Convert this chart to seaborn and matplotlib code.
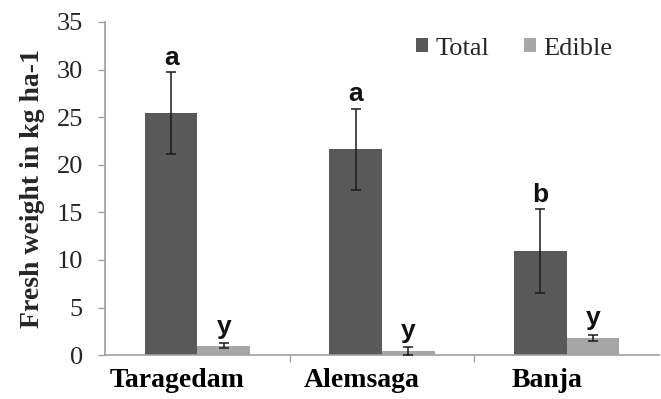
import matplotlib
matplotlib.use("Agg")
import matplotlib.pyplot as plt
import matplotlib.transforms as mtransforms
import seaborn as sns
import pandas as pd
from matplotlib.ticker import FixedLocator

# Fresh weight per site (kg ha-1), mean and error
sites = ["Taragedam", "Alemsaga", "Banja"]
series = ["Total", "Edible"]
total_mean = [25.4, 21.6, 10.9]
total_err = [4.3, 4.3, 4.4]
edible_mean = [1.0, 0.4, 1.8]
edible_err = [0.3, 0.4, 0.35]
total_letters = ["a", "a", "b"]
edible_letters = ["y", "y", "y"]

colors = {"Total": "#595959", "Edible": "#a6a6a6"}

df = pd.DataFrame({
    "Site": sites * 2,
    "Series": ["Total"] * 3 + ["Edible"] * 3,
    "Value": total_mean + edible_mean,
    "Err": total_err + edible_err,
    "Letter": total_letters + edible_letters,
})

sns.set_style("white")
serif = ["Liberation Serif", "DejaVu Serif"]
sans = ["Liberation Sans", "DejaVu Sans"]

fig = plt.figure(figsize=(6.61, 3.99), dpi=100)
ax = fig.add_axes([0.159, 0.110, 0.838, 0.835])

sns.barplot(data=df, x="Site", y="Value", hue="Series", order=sites,
            hue_order=series, palette=colors, width=0.57, saturation=1,
            errorbar=None, ax=ax, edgecolor="none")

# Error bars and significance letters placed on each drawn bar
for hue_idx, name in enumerate(series):
    sub = df[df["Series"] == name].set_index("Site").loc[sites]
    cont = ax.containers[hue_idx]
    for bar, (_, row) in zip(cont, sub.iterrows()):
        cx = bar.get_x() + bar.get_width() / 2
        top = bar.get_height()
        ax.errorbar(cx, top, yerr=row["Err"], fmt="none", ecolor="#1a1a1a",
                    elinewidth=1.1, capsize=3.5, capthick=1.1, zorder=5)
        off = 2 if name == "Total" else 3
        ax.annotate(row["Letter"], (cx, top + row["Err"]), xytext=(0, off),
                    textcoords="offset points", ha="center", va="bottom",
                    fontsize=19, fontweight="bold", family=sans, color="#111111")

ax.set_ylim(0, 35)
ax.set_xlim(-0.5, 2.5)
ax.set_yticks(range(0, 36, 5))
ax.set_ylabel("Fresh weight in kg ha-1", fontsize=20, fontweight="bold",
              family=serif, labelpad=8)
ax.set_xlabel("")

for lab in ax.get_yticklabels():
    lab.set_family(serif)
    lab.set_fontsize(19)

# Category names, drawn a little left of their bar pairs
ax.tick_params(axis="x", which="major", length=0, labelbottom=False)
name_trans = ax.get_xaxis_transform() + mtransforms.ScaledTranslation(
    -0.20, -0.13, fig.dpi_scale_trans)
for i, site in enumerate(sites):
    ax.text(i, 0, site, transform=name_trans, ha="center", va="top",
            fontsize=20, fontweight="bold", family=serif, color="black")

# Category separator ticks on the x axis
ax.xaxis.set_minor_locator(FixedLocator([0.5, 1.5]))
ax.tick_params(axis="x", which="minor", length=5, width=1, color="#a0a0a0",
               direction="out", bottom=True)
ax.tick_params(axis="y", which="major", length=5, width=1, color="#a0a0a0",
               direction="out", left=True, pad=11)

sns.despine(ax=ax)
for side in ["left", "bottom"]:
    ax.spines[side].set_color("#a0a0a0")
    ax.spines[side].set_linewidth(1.2)

leg = ax.legend(loc="upper right", bbox_to_anchor=(0.945, 1.0), ncol=2,
                frameon=False, prop={"family": serif, "size": 19},
                handlelength=0.45, handleheight=0.45, handletextpad=0.3,
                columnspacing=1.3, borderaxespad=0.2)

fig.savefig("out.png", dpi=100)
